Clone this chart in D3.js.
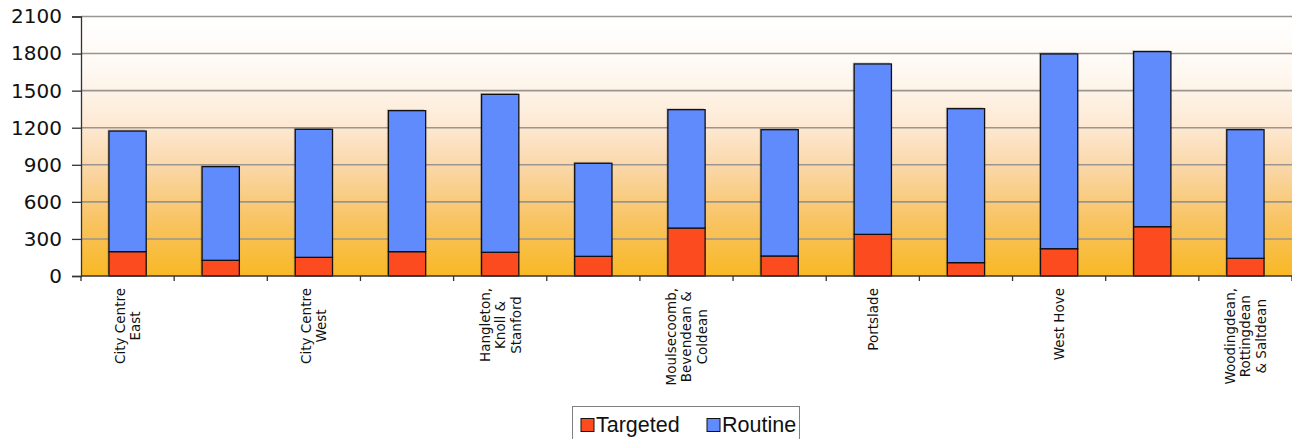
<!DOCTYPE html>
<html>
<head>
<meta charset="utf-8">
<script src="https://cdn.jsdelivr.net/npm/d3@7"></script>
<style>
  html, body { margin: 0; padding: 0; background: #ffffff; }
  svg { display: block; }
</style>
</head>
<body>
<svg id="chart" width="1292" height="439"></svg>
<script>
// Neighbourhood areas (only every other area is labelled on the axis)
const categories = [
  "City Centre East", "", "City Centre West", "",
  "Hangleton, Knoll & Stanford", "", "Moulsecoomb, Bevendean & Coldean", "",
  "Portslade", "", "West Hove", "", "Woodingdean, Rottingdean & Saltdean"
];
// Line breaks used for the rotated axis labels
const labelLines = [
  ["City Centre", "East"], [], ["City Centre", "West"], [],
  ["Hangleton,", "Knoll &", "Stanford"], [], ["Moulsecoomb,", "Bevendean &", "Coldean"], [],
  ["Portslade"], [], ["West Hove"], [], ["Woodingdean,", "Rottingdean", "& Saltdean"]
];
const targeted = [197, 127, 151, 197, 192, 159, 388, 162, 337, 108, 221, 399, 143];
const routine  = [976, 758, 1036, 1141, 1278, 753, 958, 1022, 1379, 1246, 1576, 1417, 1041];
const seriesNames = ["Targeted", "Routine"];
const seriesColors = ["#fc4c1f", "#5f8bfc"];
const yTicks = [0, 300, 600, 900, 1200, 1500, 1800, 2100];

(function () {
  const svg = d3.select("#chart");
  const plotL = 81, plotR = 1292, plotT = 16.5, plotB = 276;

  const x = d3.scaleBand()
    .domain(d3.range(categories.length))
    .range([plotL, plotR])
    .paddingInner(0.6)
    .paddingOuter(0.3);

  const y = d3.scaleLinear().domain([0, 2100]).range([plotB, plotT]);

  // Plot-area background gradient
  const defs = svg.append("defs");
  const grad = defs.append("linearGradient")
    .attr("id", "bg").attr("x1", 0).attr("y1", 0).attr("x2", 0).attr("y2", 1);
  [["0%", "#ffffff"], ["22%", "#fef8f1"], ["42%", "#fde9d3"], ["58%", "#fad7a8"],
   ["78%", "#f8c465"], ["100%", "#f9b824"]].forEach(([o, c]) =>
    grad.append("stop").attr("offset", o).attr("stop-color", c));

  svg.append("rect")
    .attr("x", plotL).attr("y", plotT)
    .attr("width", plotR - plotL).attr("height", plotB - plotT)
    .attr("fill", "url(#bg)");

  // Horizontal gridlines
  svg.append("g")
    .selectAll("line")
    .data(yTicks.filter(d => d > 0))
    .join("line")
    .attr("x1", plotL).attr("x2", plotR)
    .attr("y1", d => y(d)).attr("y2", d => y(d))
    .attr("stroke", "#9a9590").attr("stroke-width", 1.6);

  // Stacked bars
  const rows = categories.map((c, i) => ({ i, targeted: targeted[i], routine: routine[i] }));
  const stack = d3.stack().keys(["targeted", "routine"])(rows);

  const barGroups = svg.append("g")
    .selectAll("g")
    .data(stack)
    .join("g")
    .attr("fill", (d, k) => seriesColors[k]);

  // soft shadow behind each segment
  barGroups.selectAll("rect.shadow")
    .data(d => d)
    .join("rect")
    .attr("class", "shadow")
    .attr("x", d => x(d.data.i) - 1.5)
    .attr("y", d => y(d[1]) - 1.5)
    .attr("width", x.bandwidth())
    .attr("height", d => y(d[0]) - y(d[1]))
    .attr("fill", "#000").attr("opacity", 0.18);

  barGroups.selectAll("rect.seg")
    .data(d => d)
    .join("rect")
    .attr("class", "seg")
    .attr("x", d => x(d.data.i))
    .attr("y", d => y(d[1]))
    .attr("width", x.bandwidth())
    .attr("height", d => y(d[0]) - y(d[1]))
    .attr("stroke", "#111").attr("stroke-width", 1.3);

  // Y axis
  const yAxis = d3.axisLeft(y).tickValues(yTicks).tickSize(9).tickPadding(10).tickFormat(d3.format("d"));
  const gy = svg.append("g").attr("transform", `translate(${plotL},0)`).call(yAxis);
  gy.select(".domain").attr("stroke", "#333").attr("stroke-width", 1.3);
  gy.selectAll(".tick line").attr("stroke", "#333").attr("stroke-width", 1.3);
  gy.selectAll(".tick text")
    .attr("font-family", "DejaVu Sans, Verdana, sans-serif")
    .attr("font-size", 20).attr("fill", "#111");

  // X axis line and boundary ticks
  svg.append("line")
    .attr("x1", plotL).attr("x2", plotR).attr("y1", plotB).attr("y2", plotB)
    .attr("stroke", "#333").attr("stroke-width", 1.3);
  const step = x.step();
  svg.append("g")
    .selectAll("line")
    .data(d3.range(categories.length + 1))
    .join("line")
    .attr("x1", i => plotL + i * step).attr("x2", i => plotL + i * step)
    .attr("y1", plotB).attr("y2", plotB + 5)
    .attr("stroke", "#333").attr("stroke-width", 1.3);

  // Rotated multi-line category labels
  const fs = 13.5, labelTop = 288, lineH = 15.5;
  const labels = svg.append("g")
    .attr("font-family", "DejaVu Sans, Verdana, sans-serif")
    .attr("font-size", fs).attr("fill", "#111");
  labelLines.forEach((lines, i) => {
    if (!lines.length) return;
    const cx = x(i) + x.bandwidth() / 2;
    const g = labels.append("g");
    const texts = lines.map(l => g.append("text").text(l).attr("text-anchor", "middle"));
    const w = d3.max(texts, t => t.node().getComputedTextLength());
    const cy = labelTop + w / 2;
    const n = lines.length;
    texts.forEach((t, k) => {
      const off = (k - (n - 1) / 2) * lineH;
      // baseline shift so each rotated line is centred on its column
      t.attr("transform", `translate(${cx + off + fs * 0.36},${cy}) rotate(-90)`);
    });
  });

  // Legend
  const lg = svg.append("g").attr("transform", "translate(572,406)");
  lg.append("rect").attr("x", 0.5).attr("y", 0.5).attr("width", 227).attr("height", 40)
    .attr("fill", "#fff").attr("stroke", "#808080").attr("stroke-width", 1);
  const items = [{ x: 9, name: seriesNames[0], c: seriesColors[0] }, { x: 135, name: seriesNames[1], c: seriesColors[1] }];
  items.forEach(it => {
    lg.append("rect").attr("x", it.x).attr("y", 12.5).attr("width", 13).attr("height", 13)
      .attr("fill", it.c).attr("stroke", "#111").attr("stroke-width", 1);
    lg.append("text").attr("x", it.x + 15).attr("y", 26)
      .attr("font-family", "Liberation Sans, Arial, sans-serif")
      .attr("font-size", 21.5).attr("fill", "#111").text(it.name);
  });
})();
</script>
</body>
</html>
